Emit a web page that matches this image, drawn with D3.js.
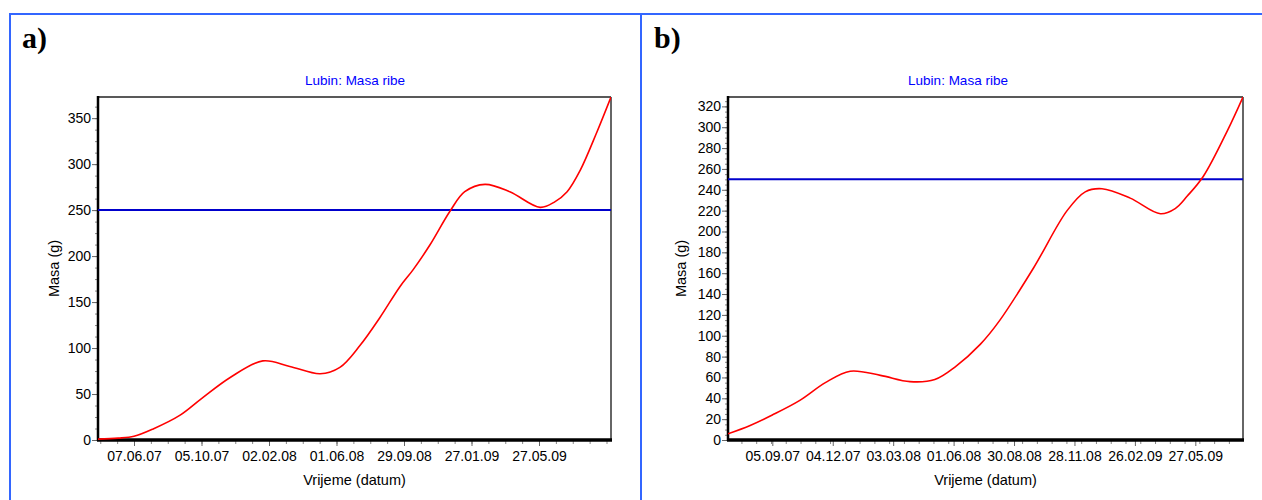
<!DOCTYPE html>
<html><head><meta charset="utf-8">
<script src="https://cdn.jsdelivr.net/npm/d3@7"></script>
<style>body{margin:0;background:#fff}svg{display:block;font-family:"Liberation Sans",Arial,sans-serif}</style>
</head><body>
<svg id="c" width="1262" height="500"></svg>
<script>
// Panel a data
const datesA = ["2007-04-04","2007-05-10","2007-06-07","2007-07-11","2007-08-28","2007-10-05","2007-11-25","2008-01-22","2008-03-10","2008-05-03","2008-06-07","2008-07-13","2008-08-17","2008-09-22","2008-10-15","2008-11-14","2008-12-20","2009-01-15","2009-02-20","2009-04-05","2009-05-29","2009-06-24","2009-07-16","2009-08-08","2009-09-07","2009-10-02"];
const massA = [1,2,4,12,27,45,68,86,80,72,79,103,133,167,185,212,249,270,278,270,253,259,270,293,335,373];
const ticksA = ["07.06.07","05.10.07","02.02.08","01.06.08","29.09.08","27.01.09","27.05.09"];
const limitA = 250;
// Panel b data
const datesB = ["2007-07-01","2007-08-03","2007-09-05","2007-10-16","2007-11-23","2007-12-30","2008-02-13","2008-03-28","2008-05-04","2008-06-03","2008-07-11","2008-08-09","2008-09-28","2008-11-17","2008-12-14","2009-01-08","2009-02-19","2009-04-05","2009-04-27","2009-05-15","2009-06-08","2009-07-14","2009-08-06"];
const massB = [6,14,24,38,55,66,62,56,58,70,92,115,165,220,238,241,232,217,222,234,253,297,329];
const ticksB = ["05.09.07","04.12.07","03.03.08","01.06.08","30.08.08","28.11.08","26.02.09","27.05.09"];
const limitB = 250;
const title = "Lubin: Masa ribe";

const svg = d3.select("#c");
const parse = d3.timeParse("%Y-%m-%d");
const parseT = d3.timeParse("%d.%m.%y");

// outer blue frame
svg.append("line").attr("x1",10).attr("x2",1262).attr("y1",14).attr("y2",14).attr("stroke","#3366ff").attr("stroke-width",2);
svg.append("line").attr("x1",10).attr("x2",10).attr("y1",13).attr("y2",500).attr("stroke","#3366ff").attr("stroke-width",2);
svg.append("line").attr("x1",641).attr("x2",641).attr("y1",13).attr("y2",500).attr("stroke","#3366ff").attr("stroke-width",2);

function panel(o){
  const g = svg.append("g");
  const x = d3.scaleTime().domain(o.xdom.map(parse)).range([o.left,o.right]);
  const y = d3.scaleLinear().domain([0,o.ymax]).range([o.bottom,o.top]);
  g.append("text").attr("x",o.lx).attr("y",48).attr("font-family","'Liberation Serif',serif").attr("font-weight","bold").attr("font-size",30).text(o.letter);
  g.append("text").attr("x",o.tx).attr("y",85).attr("text-anchor","middle").attr("font-size",13.5).attr("fill","#0000ff").text(title);
  const id = "clip"+o.letter.replace(")","");
  svg.append("clipPath").attr("id",id).append("rect").attr("x",o.left).attr("y",o.top).attr("width",o.right-o.left).attr("height",o.bottom-o.top);
  g.append("line").attr("x1",o.left).attr("x2",o.right).attr("y1",o.top).attr("y2",o.top).attr("stroke","#222").attr("stroke-width",1.5);
  g.append("line").attr("x1",o.right).attr("x2",o.right).attr("y1",o.top).attr("y2",o.bottom).attr("stroke","#333").attr("stroke-width",1.5);
  const yMinor = d3.range(0,o.ymax+0.001,o.yminor);
  g.append("g").attr("transform",`translate(${o.left},0)`).call(d3.axisLeft(y).tickValues(yMinor).tickSize(3).tickFormat(""))
    .call(s=>{s.select(".domain").remove();s.selectAll("line").attr("stroke","#888");});
  const yMajor = d3.range(0,o.ymax+0.001,o.ystep);
  g.append("g").attr("transform",`translate(${o.left},0)`).call(d3.axisLeft(y).tickValues(yMajor).tickSize(6).tickPadding(1))
    .call(s=>{s.select(".domain").remove();s.selectAll("line").attr("stroke","#666");s.selectAll("text").attr("font-size",14).attr("fill","#000").attr("font-family","'Liberation Sans',Arial,sans-serif");});
  const tdates = o.ticks.map(parseT);
  const xMinor = [];
  const step = o.xminorDays;
  for(let t = d3.timeDay.offset(tdates[0], -step*Math.ceil((tdates[0]-x.domain()[0])/864e5/step)); t <= x.domain()[1]; t = d3.timeDay.offset(t,step)){
    if(t>=x.domain()[0]) xMinor.push(t);
  }
  g.append("g").attr("transform",`translate(0,${o.bottom})`).call(d3.axisBottom(x).tickValues(xMinor).tickSize(4).tickFormat(""))
    .call(s=>{s.select(".domain").remove();s.selectAll("line").attr("stroke","#888");});
  g.append("g").attr("transform",`translate(0,${o.bottom})`).call(d3.axisBottom(x).tickValues(tdates).tickSize(6).tickPadding(5).tickFormat((d,i)=>o.ticks[i]))
    .call(s=>{s.select(".domain").remove();s.selectAll("line").attr("stroke","#666");s.selectAll("text").attr("font-size",14).attr("fill","#000").attr("font-family","'Liberation Sans',Arial,sans-serif");});
  g.append("line").attr("x1",o.left).attr("x2",o.left).attr("y1",o.top-1).attr("y2",o.bottom+1).attr("stroke","#000").attr("stroke-width",2.5);
  g.append("line").attr("x1",o.left-1).attr("x2",o.right+1).attr("y1",o.bottom).attr("y2",o.bottom).attr("stroke","#000").attr("stroke-width",3.5);
  g.append("text").attr("transform",`translate(${o.ylx},${(o.top+o.bottom)/2}) rotate(-90)`).attr("text-anchor","middle").attr("font-size",14.5).text("Masa (g)");
  g.append("text").attr("x",(o.left+o.right)/2).attr("y",485).attr("text-anchor","middle").attr("font-size",14.5).text("Vrijeme (datum)");
  g.append("line").attr("x1",o.left).attr("x2",o.right).attr("y1",y(o.limit)).attr("y2",y(o.limit)).attr("stroke","#0000cc").attr("stroke-width",2);
  const data = o.dates.map((d,i)=>({d:parse(d),v:o.mass[i]}));
  g.append("path").datum(data).attr("clip-path",`url(#${id})`).attr("fill","none").attr("stroke","#ff0000").attr("stroke-width",1.6)
    .attr("d",d3.line().x(d=>x(d.d)).y(d=>y(d.v)).curve(d3.curveCatmullRom.alpha(0.5)));
}

panel({letter:"a)",lx:22,tx:355,left:98,right:611,top:97,bottom:440,ymax:373,ystep:50,yminor:12.5,
  xdom:["2007-04-04","2009-10-02"],ticks:ticksA,xminorDays:30,dates:datesA,mass:massA,limit:limitA,ylx:59});
panel({letter:"b)",lx:654,tx:958,left:728,right:1243,top:97,bottom:440,ymax:329,ystep:20,yminor:5,
  xdom:["2007-07-01","2009-08-06"],ticks:ticksB,xminorDays:22.5,dates:datesB,mass:massB,limit:limitB,ylx:686});
</script>
</body></html>
